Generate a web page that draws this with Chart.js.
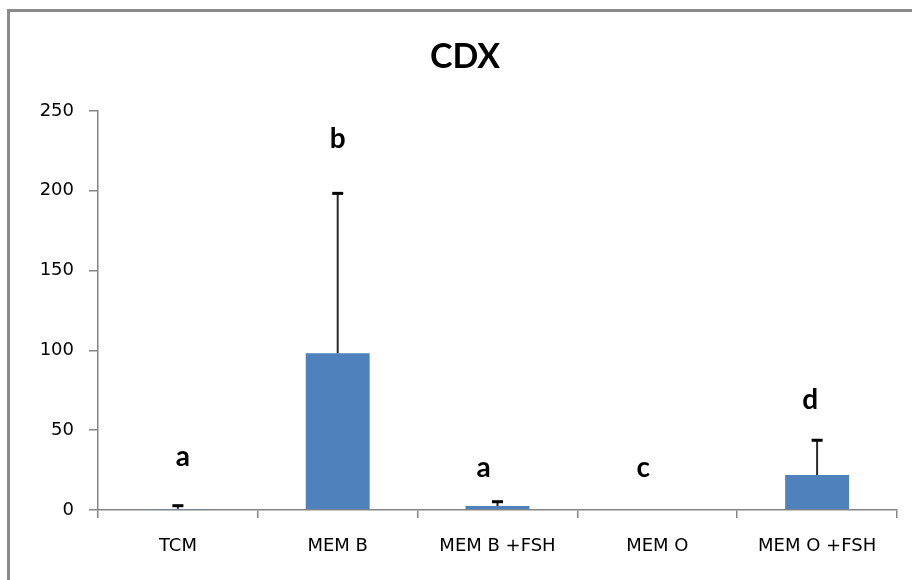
<!DOCTYPE html>
<html>
<head>
<meta charset="utf-8">
<script src="https://cdn.jsdelivr.net/npm/chart.js@4.4.1/dist/chart.umd.min.js"></script>
<style>
  html, body { margin: 0; padding: 0; background: #fff; }
  canvas { display: block; }
</style>
</head>
<body>
<canvas id="c" width="912" height="580"></canvas>
<script>
// Culture media groups and CDX expression (mean with upper SD)
const categories = ['TCM', 'MEM B', 'MEM B +FSH', 'MEM O', 'MEM O +FSH'];
const means = [0.7, 98.2, 2.5, 0, 21.9];
const sdUpper = [2.0, 100.2, 2.7, 0, 21.8];
const sigLetters = ['a', 'b', 'a', 'c', 'd'];
const yTicks = [0, 50, 100, 150, 200, 250];

// Outer frame (top and left rules of the figure box)
const framePlugin = {
  id: 'frame',
  beforeDraw(chart) {
    const ctx = chart.ctx;
    ctx.save();
    ctx.strokeStyle = '#8a8a8a';
    ctx.lineWidth = 3;
    ctx.beginPath();
    ctx.moveTo(7, 10.5);
    ctx.lineTo(chart.width, 10.5);
    ctx.moveTo(8.5, 9);
    ctx.lineTo(8.5, chart.height);
    ctx.stroke();
    ctx.restore();
  }
};

// Title drawn above the plot
const titlePlugin = {
  id: 'cdxTitle',
  afterDraw(chart) {
    const ctx = chart.ctx;
    ctx.save();
    ctx.fillStyle = '#000';
    ctx.font = 'bold 34px Lato';
    ctx.textAlign = 'center';
    ctx.textBaseline = 'middle';
    ctx.fillText('CDX', 465, 57);
    ctx.restore();
  }
};

// Upper error bars with caps
const errorBarPlugin = {
  id: 'errorBars',
  afterDatasetsDraw(chart) {
    const ctx = chart.ctx;
    const meta = chart.getDatasetMeta(0);
    const y = chart.scales.y;
    ctx.save();
    meta.data.forEach((bar, i) => {
      if (!sdUpper[i]) return;
      const x = bar.x;
      const y0 = y.getPixelForValue(means[i]);
      const y1 = y.getPixelForValue(means[i] + sdUpper[i]);
      ctx.strokeStyle = '#2a2a2a';
      ctx.lineWidth = 2;
      ctx.beginPath();
      ctx.moveTo(x, y0);
      ctx.lineTo(x, y1);
      ctx.stroke();
      ctx.strokeStyle = '#000';
      ctx.lineWidth = 3;
      ctx.beginPath();
      ctx.moveTo(x - 5.5, y1);
      ctx.lineTo(x + 5.5, y1);
      ctx.stroke();
    });
    ctx.restore();
  }
};

// Significance letters above each group
const letterPlugin = {
  id: 'sigLetters',
  afterDatasetsDraw(chart, args, opts) {
    const ctx = chart.ctx;
    const xs = chart.scales.x;
    const ys = chart.scales.y;
    ctx.save();
    ctx.fillStyle = '#000';
    ctx.font = 'bold 28px Lato';
    ctx.textAlign = 'center';
    ctx.textBaseline = 'middle';
    sigLetters.forEach((t, i) => {
      const x = xs.getPixelForValue(i) + opts.dx[i];
      const yy = ys.getPixelForValue(opts.levels[i]);
      ctx.fillText(t, x, yy);
    });
    ctx.restore();
  }
};

new Chart(document.getElementById('c'), {
  type: 'bar',
  data: {
    labels: categories,
    datasets: [{
      data: means,
      backgroundColor: '#4F81BD',
      borderWidth: 0,
      barPercentage: 0.4,
      categoryPercentage: 1.0
    }]
  },
  options: {
    responsive: false,
    animation: false,
    devicePixelRatio: 1,
    layout: { padding: { top: 111, right: 15, left: 0, bottom: 0 } },
    plugins: {
      legend: { display: false },
      title: { display: false },
      tooltip: { enabled: false },
      sigLetters: {
        levels: [33.2, 232.5, 26.3, 26.3, 68.9],
        dx: [5, 0, -14, -14, -7]
      }
    },
    scales: {
      x: {
        afterFit(scale) { scale.height = 70; },
        grid: {
          offset: true,
          drawOnChartArea: false,
          drawTicks: true,
          tickLength: 8,
          color: '#868686',
          lineWidth: 1.5
        },
        border: { color: '#868686', width: 1.5 },
        ticks: {
          color: '#000',
          padding: 18,
          font: { family: 'DejaVu Sans', size: 18 }
        }
      },
      y: {
        min: 0,
        max: 250,
        afterFit(scale) { scale.width = 98; },
        afterBuildTicks(scale) { scale.ticks = yTicks.map(v => ({ value: v })); },
        grid: {
          drawOnChartArea: false,
          drawTicks: true,
          tickLength: 9,
          color: '#868686',
          lineWidth: 1.5
        },
        border: { color: '#868686', width: 1.5 },
        ticks: {
          color: '#000',
          padding: 15,
          font: { family: 'DejaVu Sans', size: 18 }
        }
      }
    }
  },
  plugins: [framePlugin, titlePlugin, errorBarPlugin, letterPlugin]
});
</script>
</body>
</html>
